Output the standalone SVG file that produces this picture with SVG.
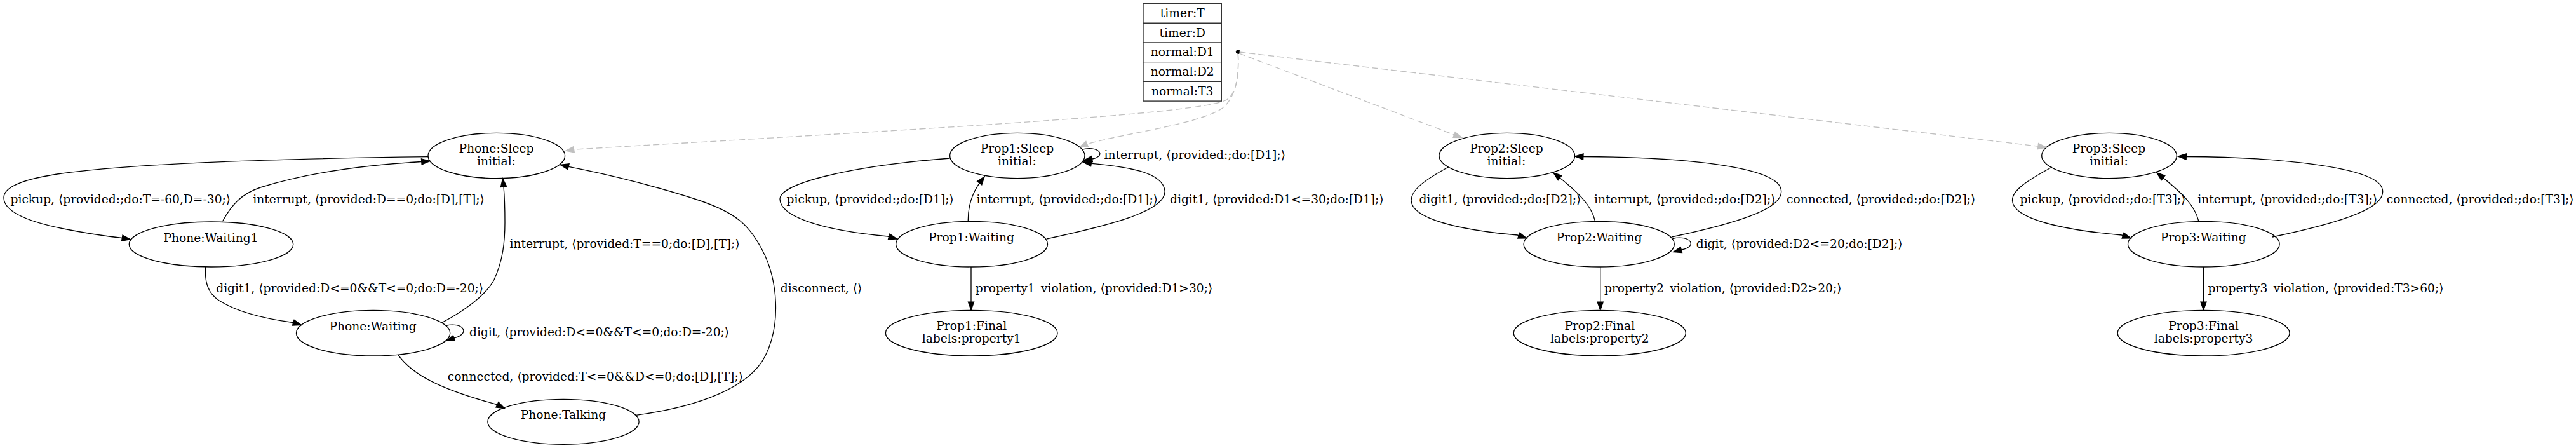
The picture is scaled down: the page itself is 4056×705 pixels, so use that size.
<svg xmlns="http://www.w3.org/2000/svg" width="4056" height="705" viewBox="0 0 4056 705">
<style>
text{font-family:"DejaVu Serif","DejaVu Sans",serif;font-size:18.67px;fill:#000}
.nt{text-anchor:middle}
.lbl{text-anchor:start}
ellipse{fill:none;stroke:#000;stroke-width:1.33}
.e{fill:none;stroke:#000;stroke-width:1.33;marker-end:url(#ah)}
.d{fill:none;stroke:#c0c0c0;stroke-width:1.33;stroke-dasharray:10,5;marker-end:url(#ahg)}
.tbl{fill:none;stroke:#333;stroke-width:1.4}
</style>
<defs>
<marker id="ah" markerUnits="userSpaceOnUse" markerWidth="14" markerHeight="10" viewBox="0 0 14 10" refX="13.3" refY="5" orient="auto" overflow="visible"><path d="M0,0.33 L13.3,5 L0,9.67 z" fill="#000" stroke="#000" stroke-width="1.2"/></marker>
<marker id="ahg" markerUnits="userSpaceOnUse" markerWidth="14" markerHeight="10" viewBox="0 0 14 10" refX="13.3" refY="5" orient="auto" overflow="visible"><path d="M0,0.33 L13.3,5 L0,9.67 z" fill="#c0c0c0" stroke="#c0c0c0" stroke-width="1.2"/></marker>
</defs>
<rect width="4056" height="705" fill="#fff"/>

<g id="vars">
<rect class="tbl" x="1800" y="5.5" width="123.3" height="153.6"/>
<path class="tbl" d="M1800,36.2 H1923.3 M1800,66.9 H1923.3 M1800,97.6 H1923.3 M1800,128.3 H1923.3"/>
<text class="nt" x="1861.7" y="27">timer:T</text>
<text class="nt" x="1861.7" y="57.6">timer:D</text>
<text class="nt" x="1861.7" y="88.3">normal:D1</text>
<text class="nt" x="1861.7" y="119">normal:D2</text>
<text class="nt" x="1861.7" y="149.6">normal:T3</text>
</g>
<g id="start"><circle cx="1949.3" cy="81.7" r="3" fill="#000" stroke="#000"/></g>

<g id="phone_sleep"><ellipse cx="781.8" cy="245" rx="107.8" ry="35.7"/><text class="nt" x="781.5" y="240">Phone:Sleep</text><text class="nt" x="781.5" y="259.6">initial:</text></g>
<g id="phone_waiting1"><ellipse cx="332.5" cy="384.5" rx="129.2" ry="35.5"/><text class="nt" x="332" y="380.5">Phone:Waiting1</text></g>
<g id="phone_waiting"><ellipse cx="587.6" cy="524.2" rx="121.1" ry="35.8"/><text class="nt" x="587" y="519.8">Phone:Waiting</text></g>
<g id="phone_talking"><ellipse cx="887" cy="663.8" rx="119.1" ry="35.5"/><text class="nt" x="887" y="659">Phone:Talking</text></g>

<g id="prop1_sleep"><ellipse cx="1601.8" cy="245" rx="106.2" ry="35.7"/><text class="nt" x="1601.5" y="240">Prop1:Sleep</text><text class="nt" x="1601.5" y="259.6">initial:</text></g>
<g id="prop1_waiting"><ellipse cx="1530.1" cy="384.2" rx="119.4" ry="35.8"/><text class="nt" x="1529.5" y="380">Prop1:Waiting</text></g>
<g id="prop1_final"><ellipse cx="1529.7" cy="524.2" rx="135.3" ry="35.8"/><text class="nt" x="1529.7" y="519.3">Prop1:Final</text><text class="nt" x="1529.7" y="539">labels:property1</text></g>

<g id="prop2_sleep"><ellipse cx="2372.8" cy="245" rx="106.8" ry="35.7"/><text class="nt" x="2372" y="240">Prop2:Sleep</text><text class="nt" x="2372" y="259.6">initial:</text></g>
<g id="prop2_waiting"><ellipse cx="2517.7" cy="384.2" rx="118.6" ry="35.8"/><text class="nt" x="2518" y="380">Prop2:Waiting</text></g>
<g id="prop2_final"><ellipse cx="2518.8" cy="524.2" rx="135.5" ry="35.8"/><text class="nt" x="2518.8" y="519.3">Prop2:Final</text><text class="nt" x="2518.8" y="539">labels:property2</text></g>

<g id="prop3_sleep"><ellipse cx="3321" cy="245" rx="106.3" ry="35.7"/><text class="nt" x="3320.5" y="240">Prop3:Sleep</text><text class="nt" x="3320.5" y="259.6">initial:</text></g>
<g id="prop3_waiting"><ellipse cx="3469.8" cy="384.2" rx="119.3" ry="35.8"/><text class="nt" x="3469.3" y="380">Prop3:Waiting</text></g>
<g id="prop3_final"><ellipse cx="3469.6" cy="524.2" rx="135.4" ry="35.8"/><text class="nt" x="3469.6" y="519.3">Prop3:Final</text><text class="nt" x="3469.6" y="539">labels:property3</text></g>

<g id="connectors">
<path class="d" d="M1949.3,84 C1951,115 1948,148 1930,158 C1880,178 1600,195 905,235 L890.5,237.3"/>
<path class="d" d="M1949.3,84 C1951,118 1947,152 1925,170 C1890,195 1770,210 1712,226.5 L1699.4,231.7"/>
<path class="d" d="M1951,84 L2302,216.7"/>
<path class="d" d="M1951.5,82 L3222.2,231.7"/>

<path class="e" d="M674,246.7 C420,250 200,258 90,274 C25,284 5,298 6,312 C7,332 40,348 100,360 C130,366 160,371 192,374.5 L205.4,376.7"/>
<path class="e" d="M350.4,348.3 C365,322 380,305 410,295 C480,273 570,260 663,254.5 L677,253.5"/>
<path class="e" d="M323.7,420 C322,445 328,462 345,473 C375,492 420,502 461,507.5 L474.5,511.5"/>
<path class="e" d="M696,507.7 C730,490 765,465 778,440 C792,410 795,380 795,350 C795,320 794,305 793,293.5 L791.5,280.7"/>
<path class="e" d="M701.8,512.5 C728,506 742,524 716,531.7 L702.5,536.5"/>
<path class="e" d="M627.2,559 C648,588 690,612 782.2,636.5 L794.8,642.7"/>
<path class="e" d="M1001.5,653.3 C1100,640 1180,610 1205,560 C1230,510 1225,440 1200,393 C1180,355 1160,335 1100,315 C1040,295 960,275 896.7,262.7 L882.2,259.3"/>

<path class="e" d="M1495.6,249 C1330,262 1228,290 1228,313 C1228,340 1290,362 1398,372 L1412.4,376"/>
<path class="e" d="M1524.3,348.3 C1524,325 1530,305 1543.3,286.7 L1550.2,277.7"/>
<path class="e" d="M1647.8,376 C1760,352 1837,330 1834,300 C1831,270 1770,262 1719.5,257.3 L1705.2,255"/>
<path class="e" d="M1703,235.5 C1728,228 1744,245 1720,250 L1706.5,252.5"/>
<path class="e" d="M1529,420 L1529,488.3"/>

<path class="e" d="M2280.4,263 C2240,285 2222,300 2222,315 C2222,345 2300,362 2389.4,370 L2403.8,375"/>
<path class="e" d="M2511.7,348.3 C2505,320 2480,300 2458.3,281.7 L2445.7,271.7"/>
<path class="e" d="M2632,373 C2750,348 2812,325 2804,297 C2795,262 2650,247 2492.8,246.5 L2479.6,246"/>
<path class="e" d="M2633.5,375.5 C2660,369 2675,387 2648,393 L2634.5,396.5"/>
<path class="e" d="M2519.7,420 L2519.7,488.3"/>

<path class="e" d="M3230.9,263 C3190,285 3168.5,300 3168.5,315 C3168.5,345 3250,362 3340.7,370 L3355.1,375"/>
<path class="e" d="M3462,348.3 C3455,320 3430,300 3408.3,281.7 L3395.6,271.7"/>
<path class="e" d="M3578,373 C3697,348 3759,325 3751,297 C3742,262 3580,247 3442.3,246.5 L3429.1,246"/>
<path class="e" d="M3469.5,420 L3469.5,488.3"/>

<text class="lbl" x="16.5" y="320">pickup, ⟨provided:;do:T=-60,D=-30;⟩</text>
<text class="lbl" x="398.2" y="320">interrupt, ⟨provided:D==0;do:[D],[T];⟩</text>
<text class="lbl" x="340.2" y="459.5">digit1, ⟨provided:D&lt;=0&amp;&amp;T&lt;=0;do:D=-20;⟩</text>
<text class="lbl" x="802.6" y="390">interrupt, ⟨provided:T==0;do:[D],[T];⟩</text>
<text class="lbl" x="739" y="528.5">digit, ⟨provided:D&lt;=0&amp;&amp;T&lt;=0;do:D=-20;⟩</text>
<text class="lbl" x="704.7" y="598.5">connected, ⟨provided:T&lt;=0&amp;&amp;D&lt;=0;do:[D],[T];⟩</text>
<text class="lbl" x="1228.7" y="459.5">disconnect, ⟨⟩</text>

<text class="lbl" x="1238.5" y="320">pickup, ⟨provided:;do:[D1];⟩</text>
<text class="lbl" x="1537.5" y="320">interrupt, ⟨provided:;do:[D1];⟩</text>
<text class="lbl" x="1842" y="320">digit1, ⟨provided:D1&lt;=30;do:[D1];⟩</text>
<text class="lbl" x="1738.5" y="249.5">interrupt, ⟨provided:;do:[D1];⟩</text>
<text class="lbl" x="1535.8" y="460">property1_violation, ⟨provided:D1&gt;30;⟩</text>

<text class="lbl" x="2234.4" y="320">digit1, ⟨provided:;do:[D2];⟩</text>
<text class="lbl" x="2510" y="320">interrupt, ⟨provided:;do:[D2];⟩</text>
<text class="lbl" x="2813" y="320">connected, ⟨provided:;do:[D2];⟩</text>
<text class="lbl" x="2670.7" y="390">digit, ⟨provided:D2&lt;=20;do:[D2];⟩</text>
<text class="lbl" x="2526" y="460">property2_violation, ⟨provided:D2&gt;20;⟩</text>

<text class="lbl" x="3180.6" y="320">pickup, ⟨provided:;do:[T3];⟩</text>
<text class="lbl" x="3460.3" y="320">interrupt, ⟨provided:;do:[T3];⟩</text>
<text class="lbl" x="3757.8" y="320">connected, ⟨provided:;do:[T3];⟩</text>
<text class="lbl" x="3476.5" y="460">property3_violation, ⟨provided:T3&gt;60;⟩</text>
</g>
</svg>
